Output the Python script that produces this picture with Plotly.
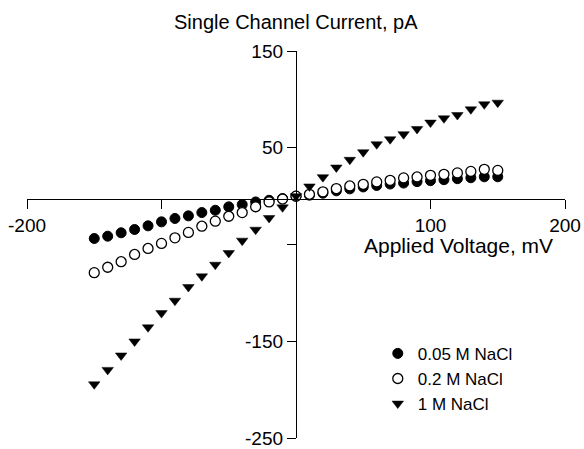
import plotly.graph_objects as go

voltage = [-150, -140, -130, -120, -110, -100, -90, -80, -70, -60, -50, -40, -30, -20, -10, 0,
           10, 20, 30, 40, 50, 60, 70, 80, 90, 100, 110, 120, 130, 140, 150]

nacl_005 = [-43.8, -41.4, -37.9, -34.5, -30.7, -26.6, -23.1, -20.4, -17.0, -14.6, -11.1, -8.7, -6.0, -4.3, -2.5, 0.0,
            1.0, 3.0, 5.5, 7.5, 9.5, 11.0, 12.5, 13.5, 15.0, 16.0, 17.0, 18.0, 19.0, 20.0, 20.0]

nacl_02 = [-79.1, -73.5, -67.8, -60.3, -54.1, -48.9, -43.1, -37.5, -31.1, -25.9, -20.8, -17.0, -11.0, -6.0, -3.0, 0.0,
           1.9, 4.4, 7.8, 10.5, 12.2, 14.7, 16.3, 18.8, 19.8, 21.5, 22.5, 24.0, 25.5, 27.7, 26.6]

nacl_1 = [-194.5, -179.6, -164.7, -150.2, -135.6, -120.9, -108.1, -94.0, -82.9, -70.9, -58.8, -46.0, -34.7, -22.6, -11.6, 0.0,
          10.0, 19.6, 29.6, 37.5, 45.4, 53.6, 58.8, 64.0, 69.4, 76.0, 80.4, 83.8, 89.7, 94.9, 96.6]

x_tickvals = [-200, -100, 0, 100, 200]
x_ticktext = ["-200", "", "", "100", "200"]
y_tickvals = [150, 50, -50, -150, -250]
y_ticktext = ["150", "50", "", "-150", "-250"]

FONT = "Liberation Sans, Arial, sans-serif"

fig = go.Figure()
fig.add_trace(go.Scatter(x=voltage, y=nacl_005, mode="markers", name="0.05 M NaCl",
                         marker=dict(symbol="circle", size=10, color="black",
                                     line=dict(color="black", width=1))))
fig.add_trace(go.Scatter(x=voltage, y=nacl_02, mode="markers", name="0.2 M NaCl",
                         marker=dict(symbol="circle", size=10, color="white",
                                     line=dict(color="black", width=1.3))))
fig.add_trace(go.Scatter(x=voltage, y=nacl_1, mode="markers", name="1 M NaCl",
                         marker=dict(symbol="triangle-down", size=10, color="black",
                                     line=dict(color="black", width=0.5))))

fig.update_layout(
    width=584, height=449,
    margin=dict(l=27, r=19, t=51, b=11, autoexpand=False),
    paper_bgcolor="white", plot_bgcolor="white",
    font=dict(family=FONT, color="black", size=19),
    showlegend=True,
    legend=dict(x=0.652, y=0.264, xanchor="left", yanchor="top",
                font=dict(size=17, family=FONT), bgcolor="rgba(0,0,0,0)",
                tracegroupgap=0, itemsizing="trace"),
    xaxis=dict(range=[-200, 200], domain=[0, 1], anchor="free", position=0.6176,
               showgrid=False, zeroline=False, showline=True, linecolor="black", linewidth=1.3,
               ticks="outside", ticklen=9, tickwidth=1.3, tickcolor="black",
               tickvals=x_tickvals, ticktext=x_ticktext, ticklabeloverflow="allow",
               tickfont=dict(size=19, family=FONT), automargin=False),
    yaxis=dict(range=[-250, 150], domain=[0, 1], anchor="free", position=0.5,
               showgrid=False, zeroline=False, showline=True, linecolor="black", linewidth=1.3,
               ticks="outside", ticklen=9, tickwidth=1.3, tickcolor="black",
               tickvals=y_tickvals, ticktext=y_ticktext, ticklabeloverflow="allow",
               tickfont=dict(size=19, family=FONT), automargin=False),
    annotations=[
        dict(text="Single Channel Current, pA", xref="paper", yref="paper",
             x=0.5, y=1, yshift=29, xanchor="center", yanchor="middle",
             showarrow=False, font=dict(size=20, family=FONT)),
        dict(text="Applied Voltage, mV", xref="x", yref="paper",
             x=121, y=0.6176, yshift=-47, xanchor="center", yanchor="middle",
             showarrow=False, font=dict(size=21, family=FONT)),
    ],
)

fig.write_html("out.html")
